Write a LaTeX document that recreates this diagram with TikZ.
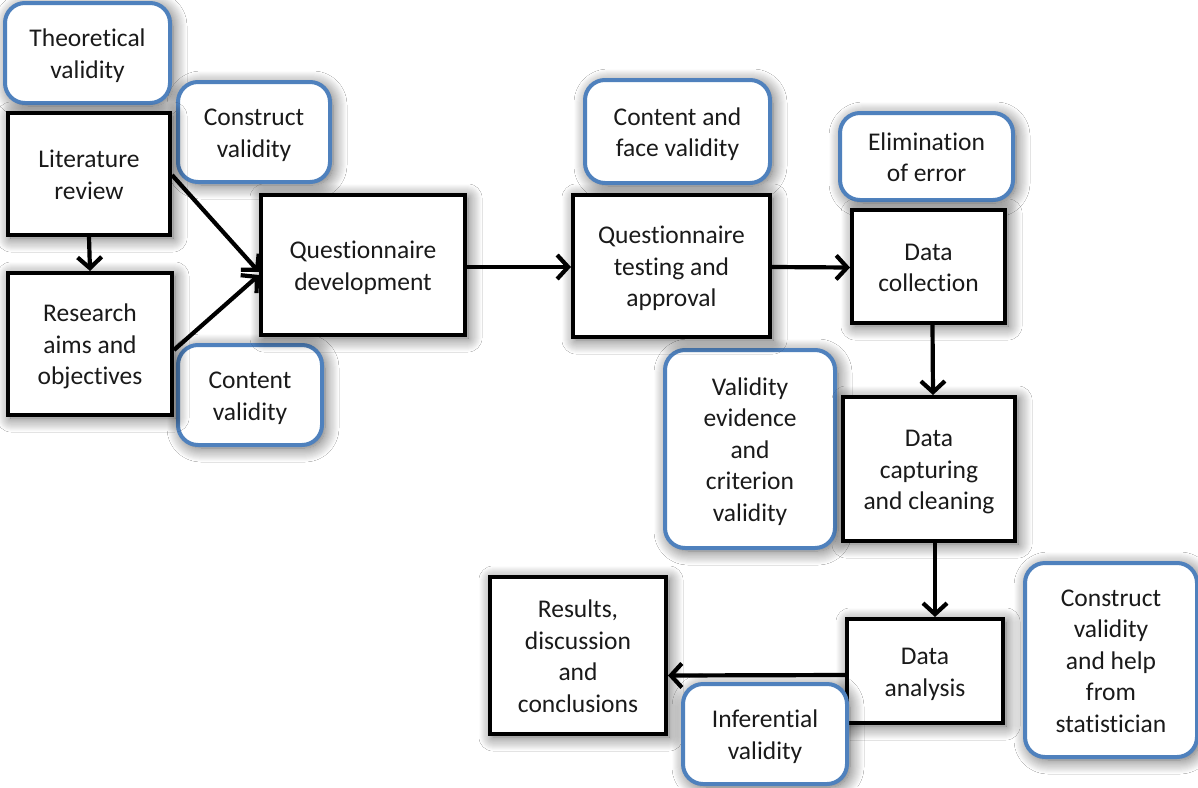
\documentclass[tikz,border=0pt]{standalone}
\usepackage{fontspec}
\setmainfont[Ligatures=NoCommon]{Carlito}
\usetikzlibrary{arrows.meta,shadows.blur}
\definecolor{boxblue}{HTML}{4F81BD}
\definecolor{ink}{HTML}{1A1A1A}
\tikzset{
  halo/.style={blur shadow={shadow xshift=3pt,shadow yshift=-3pt,shadow blur radius=14pt,shadow opacity=65,shadow blur steps=14}},
  stage/.style={draw=black,line width=4pt,fill=white,halo,align=center,inner sep=2pt,
    font=\fontsize{25.5}{31.5}\selectfont,text=ink},
  check/.style={draw=boxblue,line width=4pt,fill=white,rounded corners=20pt,halo,align=center,inner sep=2pt,
    font=\fontsize{25.5}{31.5}\selectfont,text=ink},
  flow/.style={line width=4.2pt,-{Straight Barb[length=11pt,width=24pt,line width=4.2pt]}}
}
% set the lines a little lower inside their box without changing its size
\newcommand{\lowered}[1]{\raisebox{-3pt}[\height][\depth]{\begin{tabular}{@{}c@{}}#1\end{tabular}}}
\begin{document}
\begin{tikzpicture}[x=1pt,y=-1pt]
\useasboundingbox[fill=white] (0,0) rectangle (1198,787);

% validity checks (blue rounded boxes)
\node[check,minimum width=165pt,minimum height=100pt] (theo)  at (87.5,53)   {\lowered{Theoretical\\validity}};
\node[check,minimum width=152pt,minimum height=100pt] (cons1) at (254,132)   {\lowered{Construct\\validity}};
\node[check,minimum width=144pt,minimum height=100pt] (cont1) at (250,395)   {\lowered{Content\\validity}};
\node[check,minimum width=185pt,minimum height=103pt] (cface) at (677.5,131.5) {\lowered{Content and\\face validity}};
\node[check,minimum width=173pt,minimum height=87pt]  (elim)  at (926.5,156.5) {\lowered{Elimination\\of error}};
\node[check,minimum width=170pt,minimum height=198pt] (valev) at (750,449)   {\lowered{Validity\\evidence\\and\\criterion\\validity}};
\node[check,minimum width=172pt,minimum height=194pt] (cons2) at (1111,660)  {\lowered{Construct\\validity\\and help\\from\\statistician}};

% process stages (black boxes)
\node[stage,minimum width=162pt,minimum height=122pt] (lit)   at (89,174)    {\lowered{Literature\\review}};
\node[stage,minimum width=164pt,minimum height=142pt] (aims)  at (90,344)    {\lowered{Research\\aims and\\objectives}};
\node[stage,minimum width=204pt,minimum height=140pt] (qdev)  at (363,265)   {\lowered{Questionnaire\\development}};
\node[stage,minimum width=197pt,minimum height=142pt] (qtest) at (671.5,266) {\lowered{Questionnaire\\testing and\\approval}};
\node[stage,minimum width=153pt,minimum height=113pt] (dcol)  at (928.5,266.5) {\lowered{Data\\collection}};
\node[stage,minimum width=172pt,minimum height=144pt] (dcap)  at (929,469)   {\lowered{Data\\capturing\\and cleaning}};
\node[stage,minimum width=156pt,minimum height=104pt] (dana)  at (925,671)   {\lowered{Data\\analysis}};
\node[stage,minimum width=176pt,minimum height=157pt] (res)   at (578,655.5) {\lowered{Results,\\discussion\\and\\conclusions}};

\node[check,minimum width=164pt,minimum height=100pt] (infer) at (765,734)   {\lowered{Inferential\\validity}};

% flow between stages
\draw[flow] (lit.south) -- (aims.north);
\draw[flow] ([yshift=-1pt]lit.east) -- ([yshift=-7pt]qdev.west);
\draw[flow] ([yshift=-6pt]aims.east) -- ([yshift=-10pt]qdev.west);
\draw[flow] ([yshift=-2pt]qdev.east) -- ([yshift=-1pt]qtest.west);
\draw[flow] ([yshift=-1pt]qtest.east) -- ([yshift=-1pt]dcol.west);
\draw[flow] ([xshift=4pt]dcol.south) -- ([xshift=4pt]dcap.north);
\draw[flow] ([xshift=6pt]dcap.south) -- ([xshift=10pt]dana.north);
\draw[flow] ([yshift=-4pt]dana.west) -- ([yshift=-20pt]res.east);
\end{tikzpicture}
\end{document}
